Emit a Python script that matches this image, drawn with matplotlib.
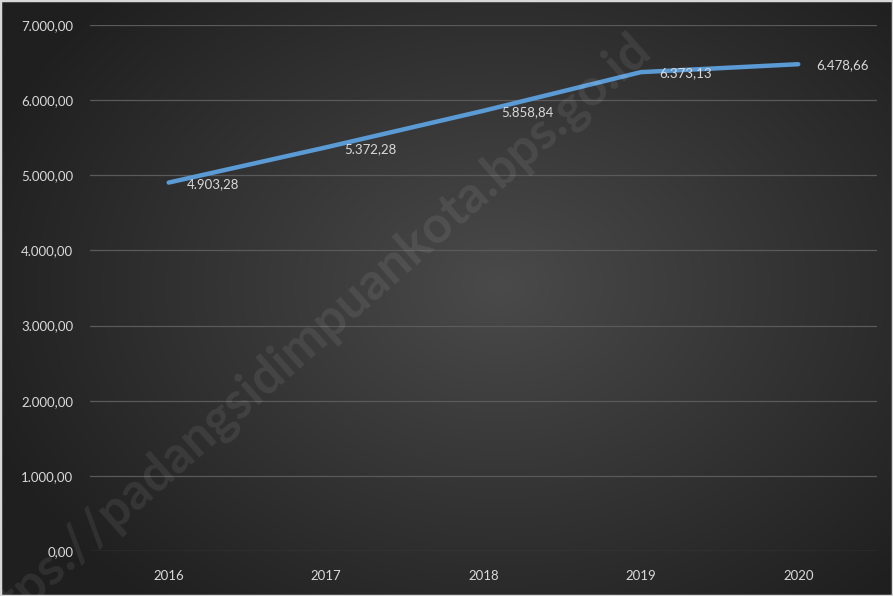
#!/usr/bin/env python3
# -*- coding: utf-8 -*-

"""Line chart, 2016-2020, dark gradient style with watermark"""

import numpy as np
import matplotlib
matplotlib.use("Agg")
import matplotlib.pyplot as plt
from matplotlib.ticker import FuncFormatter

years = ["2016", "2017", "2018", "2019", "2020"]
values = [4903.28, 5372.28, 5858.84, 6373.13, 6478.66]
y_ticks = [0, 1000, 2000, 3000, 4000, 5000, 6000, 7000]
watermark = "https://padangsidimpuankota.bps.go.id"

plt.rcParams["font.family"] = ["Lato", "DejaVu Sans"]


def id_fmt(v, pos=None):
    """Indonesian number format: 4.903,28"""
    s = f"{v:,.2f}"
    return s.replace(",", "X").replace(".", ",").replace("X", ".")


fig = plt.figure(figsize=(8.93, 5.96), dpi=100)

# radial gradient background
bg = fig.add_axes([0, 0, 1, 1], zorder=0)
yy, xx = np.mgrid[0:1:300j, 0:1:450j]
r = np.sqrt(((xx - 0.56) / 0.62) ** 2 + ((yy - 0.52) / 0.70) ** 2)
r = np.clip(r, 0, 1)
c_in = np.array([0x4a, 0x4a, 0x4a]) / 255
c_out = np.array([0x1f, 0x1f, 0x1f]) / 255
img = c_in[None, None, :] * (1 - r[..., None]) + c_out[None, None, :] * r[..., None]
bg.imshow(img, extent=[0, 1, 0, 1], aspect="auto", origin="lower")
bg.set_xlim(0, 1)
bg.set_ylim(0, 1)
bg.axis("off")

ax = fig.add_axes([0.1008, 0.0755, 0.8812, 0.8825], zorder=1)
ax.patch.set_alpha(0)

x = np.arange(len(years))
ax.plot(x, values, color="#5b9bd5", linewidth=3.2, solid_capstyle="round",
        solid_joinstyle="round", zorder=3)

for xi, v in zip(x, values):
    ax.annotate(id_fmt(v), (xi, v), xytext=(13, -1), textcoords="offset points",
                ha="left", va="center", color="#d9d9d9", fontsize=9.5, zorder=4)

ax.set_xlim(-0.5, len(years) - 0.5)
ax.set_ylim(0, 7000)
ax.set_yticks(y_ticks)
ax.yaxis.set_major_formatter(FuncFormatter(id_fmt))
ax.set_xticks(x)
ax.set_xticklabels(years)
ax.tick_params(axis="both", length=0, colors="#d9d9d9", labelsize=9.5)
ax.tick_params(axis="y", pad=12)
ax.tick_params(axis="x", pad=14)
ax.grid(axis="y", color="#5a5a5a", linewidth=0.9)
ax.set_axisbelow(True)
for sp in ax.spines.values():
    sp.set_visible(False)

# watermark, anchored at its right end, runs off the bottom-left corner
fig.text(0.732, 0.912, watermark, rotation=41.5, rotation_mode="anchor",
         ha="right", va="baseline", fontsize=37, fontweight="bold",
         color="white", alpha=0.08, zorder=5)

# thin light frame
fig.patches.append(plt.Rectangle((0, 0), 1, 1, transform=fig.transFigure,
                                 fill=False, edgecolor="#d8d8d8", linewidth=2.5,
                                 zorder=10))

fig.savefig("out.png", dpi=100)
